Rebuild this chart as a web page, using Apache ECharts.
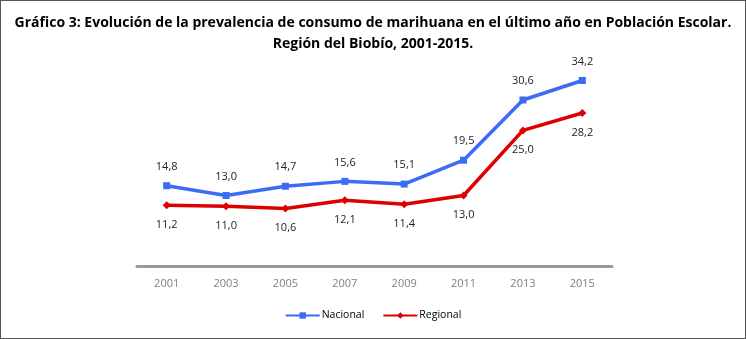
<!DOCTYPE html>
<html><head><meta charset="utf-8">
<script src="https://cdn.jsdelivr.net/npm/echarts@6/dist/echarts.min.js"></script>
<style>
html,body{margin:0;padding:0;background:#fff;}
#c{width:744px;height:337px;border:1px solid #555;}
</style></head>
<body><div id="c"></div>
<script>
const categories = ['2001','2003','2005','2007','2009','2011','2013','2015'];
const nacional = [14.8, 13.0, 14.7, 15.6, 15.1, 19.5, 30.6, 34.2];
const regional = [11.2, 11.0, 10.6, 12.1, 11.4, 13.0, 25.0, 28.2];
const titleText = 'Gráfico 3: Evolución de la prevalencia de consumo de marihuana en el último año en Población Escolar.\nRegión del Biobío, 2001-2015.';

const chart = echarts.init(document.getElementById('c'));
const fmt = p => p.value.toFixed(1).replace('.', ',');
chart.setOption({
  animation:false,
  title:{text:titleText,left:'center',top:7,textStyle:{fontFamily:'Open Sans',fontWeight:'bold',fontSize:14,color:'#000',lineHeight:21}},
  legend:{bottom:12,left:'center',itemWidth:34,itemHeight:8,itemGap:18,textStyle:{fontFamily:'Open Sans',fontSize:10.5,color:'#000',padding:[0,0,0,-3]},data:['Nacional','Regional']},
  grid:{left:136,right:133,top:48,bottom:72},
  xAxis:{type:'category',data:categories,boundaryGap:true,
    axisLine:{lineStyle:{color:'#999',width:3}},axisTick:{show:false},
    axisLabel:{color:'#808080',fontFamily:'Open Sans',fontSize:11,margin:12}},
  yAxis:{type:'value',min:0,max:40,show:false,splitLine:{show:false}},
  series:[
    {name:'Nacional',type:'line',data:nacional,symbol:'rect',symbolSize:7,
     lineStyle:{color:'#3B6CF6',width:3.5},itemStyle:{color:'#3B6CF6'},
     label:{show:true,position:'top',distance:10,formatter:fmt,fontFamily:'Open Sans',fontSize:11,color:'#222'}},
    {name:'Regional',type:'line',data:regional,symbol:'diamond',symbolSize:8,
     lineStyle:{color:'#DC0000',width:3.5},itemStyle:{color:'#DC0000'},
     label:{show:true,position:'bottom',distance:10,formatter:fmt,fontFamily:'Open Sans',fontSize:11,color:'#222'}}
  ]
});
</script></body></html>
